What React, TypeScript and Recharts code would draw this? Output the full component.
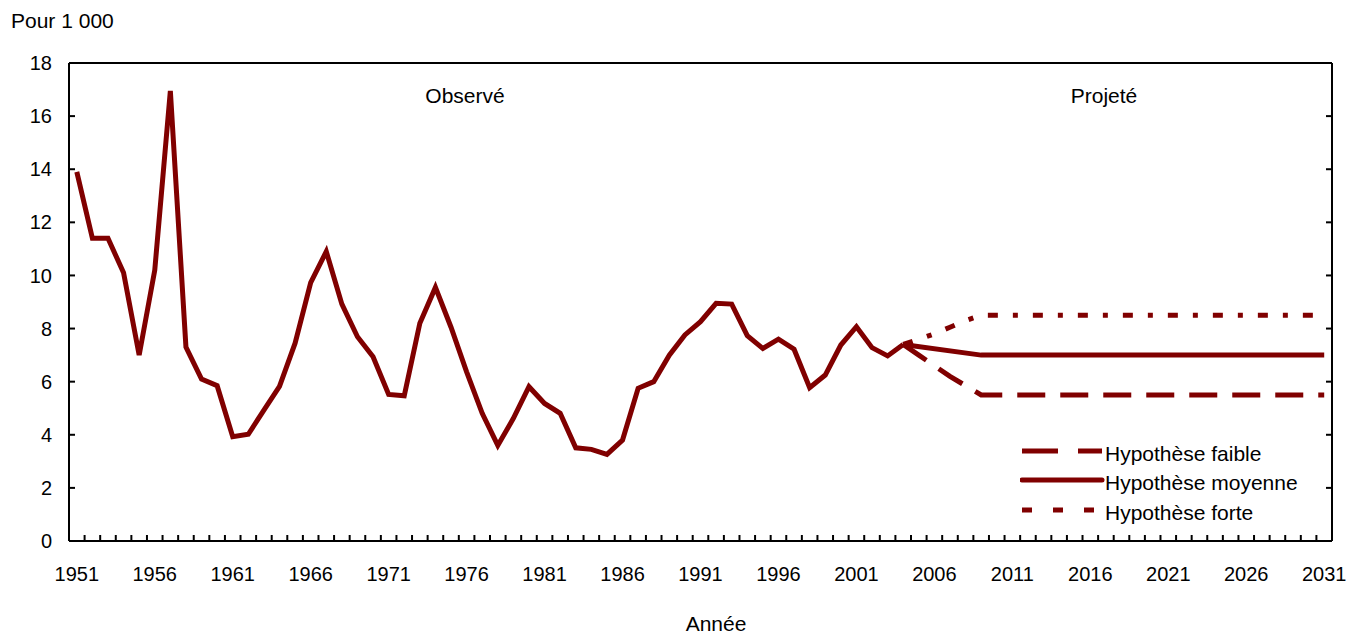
import { LineChart, Line, XAxis, YAxis } from "recharts";

const RED = "#800000";
const FONT = "'Liberation Sans', Arial, sans-serif";

const FIRST_YEAR = 1951;
const LAST_YEAR = 2031;
const PROJ_START = 2004;

// taux observé, pour 1 000, 1951 à 2004
const observed = [
  13.9, 11.4, 11.4, 10.1, 7.0, 10.2, 16.95, 7.3, 6.1, 5.85,
  3.93, 4.02, 4.93, 5.82, 7.45, 9.73, 10.9, 8.92, 7.69, 6.94,
  5.52, 5.47, 8.2, 9.55, 8.05, 6.37, 4.81, 3.6, 4.62, 5.81,
  5.18, 4.81, 3.51, 3.45, 3.26, 3.8, 5.75, 6.0, 7.0, 7.76,
  8.26, 8.95, 8.92, 7.73, 7.25, 7.6, 7.22, 5.77, 6.25, 7.38,
  8.07, 7.28, 6.97, 7.4,
];

// projections 2004 à 2031
const lowProj = [
  7.4, 7.0, 6.6, 6.2, 5.85, 5.5,
  5.5, 5.5, 5.5, 5.5, 5.5, 5.5, 5.5, 5.5, 5.5, 5.5, 5.5,
  5.5, 5.5, 5.5, 5.5, 5.5, 5.5, 5.5, 5.5, 5.5, 5.5, 5.5,
];
const midProj = [
  7.4, null, null, null, null, 7.0,
  7.0, 7.0, 7.0, 7.0, 7.0, 7.0, 7.0, 7.0, 7.0, 7.0, 7.0,
  7.0, 7.0, 7.0, 7.0, 7.0, 7.0, 7.0, 7.0, 7.0, 7.0, 7.0,
];
const highProj = [
  7.4, 7.6, 7.8, 8.05, 8.3, 8.5,
  8.5, 8.5, 8.5, 8.5, 8.5, 8.5, 8.5, 8.5, 8.5, 8.5, 8.5,
  8.5, 8.5, 8.5, 8.5, 8.5, 8.5, 8.5, 8.5, 8.5, 8.5, 8.5,
];

const yearLabels = [1951, 1956, 1961, 1966, 1971, 1976, 1981, 1986, 1991, 1996, 2001, 2006, 2011, 2016, 2021, 2026, 2031];
const yTicks = [0, 2, 4, 6, 8, 10, 12, 14, 16, 18];

const data = Array.from({ length: LAST_YEAR - FIRST_YEAR + 1 }, (_, i) => {
  const year = FIRST_YEAR + i;
  const j = year - PROJ_START;
  return {
    year,
    obs: observed[i] ?? null,
    low: j >= 0 ? lowProj[j] : null,
    mid: j >= 0 ? midProj[j] : null,
    high: j >= 0 ? highProj[j] : null,
  };
});

// tick marks sit between the years
const minorTicks = Array.from({ length: LAST_YEAR - FIRST_YEAR }, (_, i) => FIRST_YEAR + 0.5 + i);
const xDomain = [FIRST_YEAR - 0.5, LAST_YEAR + 0.5];

const axisLine = { stroke: "#000", strokeWidth: 2 };
const tickText = { fill: "#000", fontSize: 20, fontFamily: FONT };
const noLabel = () => <g />;

const legendRows = [
  { name: "Hypothèse faible", dash: "36 20", cap: "butt", y: 451 },
  { name: "Hypothèse moyenne", dash: undefined, cap: "round", y: 480 },
  { name: "Hypothèse forte", dash: "10 21", cap: "butt", y: 510 },
];

const textStyle = {
  position: "absolute" as const,
  fontFamily: FONT,
  fontSize: 21,
  lineHeight: "16px",
  color: "#000",
  whiteSpace: "nowrap" as const,
};

function ChartLegend() {
  return (
    <>
      {legendRows.map((r) => (
        <div key={r.name}>
          <svg style={{ position: "absolute", left: 1020, top: r.y - 6 }} width={86} height={12}>
            <line x1={2} x2={82} y1={6} y2={6} stroke={RED} strokeWidth={5} strokeDasharray={r.dash} strokeLinecap={r.cap as "butt" | "round"} />
          </svg>
          <div style={{ ...textStyle, left: 1105, top: r.y - 5 }}>{r.name}</div>
        </div>
      ))}
    </>
  );
}

export default function App() {
  return (
    <div style={{ position: "absolute", left: 0, top: 0, width: 1346, height: 637, overflow: "hidden", background: "#fff" }}>
      <LineChart width={1346} height={637} data={data} margin={{ top: 63, right: 14, bottom: 36, left: 9 }}>
        <XAxis
          xAxisId="lab"
          type="number"
          dataKey="year"
          domain={xDomain}
          allowDataOverflow
          ticks={yearLabels}
          interval={0}
          height={60}
          tickLine={false}
          axisLine={axisLine}
          tickSize={6}
          tickMargin={20}
          tick={tickText}
        />
        <XAxis
          xAxisId="marks"
          type="number"
          dataKey="year"
          domain={xDomain}
          allowDataOverflow
          ticks={minorTicks}
          interval={0}
          mirror
          tick={noLabel}
          axisLine={false}
          tickLine={axisLine}
          tickSize={6}
        />
        <XAxis
          xAxisId="top"
          orientation="top"
          type="number"
          dataKey="year"
          domain={xDomain}
          allowDataOverflow
          mirror
          tick={false}
          tickLine={false}
          axisLine={axisLine}
        />
        {/* negative tickSize turns the tick marks inward, labels stay outside */}
        <YAxis
          yAxisId="val"
          type="number"
          domain={[0, 18]}
          allowDataOverflow
          ticks={yTicks}
          interval={0}
          width={60}
          tickLine={axisLine}
          axisLine={axisLine}
          tickSize={-6}
          tickMargin={23}
          tick={tickText}
        />
        <YAxis
          yAxisId="rmarks"
          orientation="right"
          type="number"
          domain={[0, 18]}
          allowDataOverflow
          ticks={yTicks}
          interval={0}
          mirror
          tick={noLabel}
          axisLine={axisLine}
          tickLine={axisLine}
          tickSize={6}
        />
        {/* invisible series so the frame axes get drawn */}
        <Line xAxisId="marks" yAxisId="val" dataKey="obs" stroke="none" dot={false} legendType="none" isAnimationActive={false} />
        <Line xAxisId="top" yAxisId="rmarks" dataKey="obs" stroke="none" dot={false} legendType="none" isAnimationActive={false} />
        <Line xAxisId="lab" yAxisId="val" dataKey="low" stroke={RED} strokeWidth={5} strokeDasharray="28 15" dot={false} isAnimationActive={false} />
        <Line xAxisId="lab" yAxisId="val" dataKey="high" stroke={RED} strokeWidth={5} strokeDasharray="10 15 5 15" dot={false} isAnimationActive={false} />
        <Line xAxisId="lab" yAxisId="val" dataKey="mid" stroke={RED} strokeWidth={5} connectNulls dot={false} isAnimationActive={false} />
        <Line xAxisId="lab" yAxisId="val" dataKey="obs" stroke={RED} strokeWidth={5} dot={false} isAnimationActive={false} />
      </LineChart>
      <div style={{ ...textStyle, left: 11, top: 13 }}>Pour 1 000</div>
      <div style={{ ...textStyle, left: 465, top: 88, transform: "translateX(-50%)" }}>Observé</div>
      <div style={{ ...textStyle, left: 1104, top: 88, transform: "translateX(-50%)" }}>Projeté</div>
      <div style={{ ...textStyle, left: 716, top: 616, transform: "translateX(-50%)" }}>Année</div>
      <ChartLegend />
    </div>
  );
}
